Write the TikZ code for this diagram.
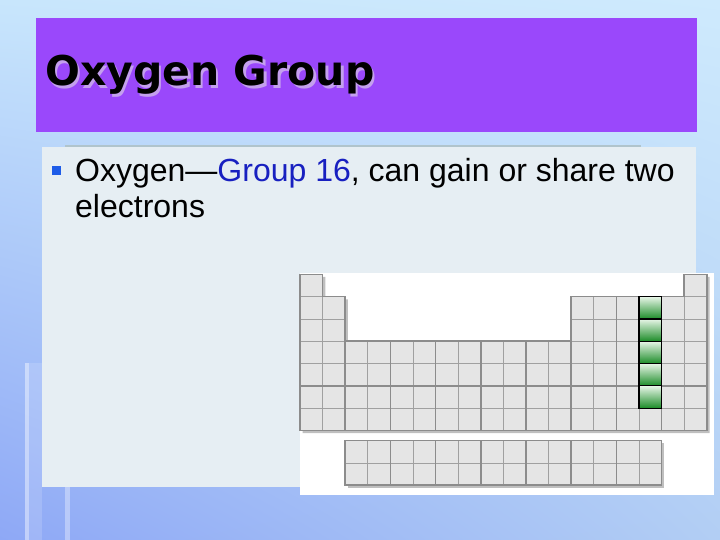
\documentclass[tikz,border=0pt]{standalone}
\usepackage{fontspec}
\setmainfont{Liberation Sans}
\newfontfamily\titlefont{DejaVu Sans}
\definecolor{bgul}{RGB}{200,230,252}
\definecolor{bgur}{RGB}{206,234,253}
\definecolor{bgll}{RGB}{142,168,246}
\definecolor{bglr}{RGB}{178,206,244}
\definecolor{titlebar}{RGB}{154,72,251}
\definecolor{titleshade}{RGB}{196,160,238}
\definecolor{panel}{RGB}{230,238,243}
\definecolor{panelrim}{RGB}{176,196,204}
\definecolor{bulletblue}{RGB}{30,92,232}
\definecolor{textblue}{RGB}{24,32,192}
\definecolor{cellgray}{RGB}{229,229,229}
\definecolor{linegray}{RGB}{160,160,160}
\definecolor{rimgray}{RGB}{140,140,140}
\definecolor{greentop}{RGB}{232,246,232}
\definecolor{greenmid}{RGB}{96,190,96}
\definecolor{greenbot}{RGB}{28,140,40}
\usetikzlibrary{positioning,shadings}

\begin{document}
\begin{tikzpicture}[x=1pt,y=-1pt,
  cell/.style={fill=cellgray,draw=linegray,line width=0.8pt},
  rim/.style={draw=rimgray,line width=1.6pt},
  drop/.style={fill=black,opacity=0.25},
  greencell/.style={top color=greentop,middle color=greenmid,bottom color=greenbot,draw=black,line width=1.2pt}]
  \useasboundingbox (0,0) rectangle (720,540);
  % slide background
  \shade[upper left=bgul,upper right=bgur,lower left=bgll,lower right=bglr] (0,0) rectangle (720,540);
  \fill[white,opacity=0.45] (25,363) rectangle (29,540);
  \fill[white,opacity=0.15] (29,363) rectangle (42,540);
  \fill[white,opacity=0.35] (65,487) rectangle (70,540);
  % title bar
  \fill[titlebar] (36,18) rectangle (697,132);
  \node[anchor=base west,inner sep=0pt,text=titleshade,font=\titlefont\bfseries\fontsize{41}{41}\selectfont] at (47.5,88.5) {Oxygen Group};
  \node[anchor=base west,inner sep=0pt,font=\titlefont\bfseries\fontsize{41}{41}\selectfont] (T) at (45,86) {Oxygen Group};
  % text panel
  \fill[panelrim] (65,145) rectangle (641,148);
  \fill[panel] (42,147) rectangle (696,487);
  \node[fill=bulletblue,minimum width=8.5pt,minimum height=9pt,inner sep=0pt,anchor=north west] (S) at (52,166) {};
  \node[anchor=base west,inner sep=0pt,font=\fontsize{32}{36}\selectfont] (L1) at (75,182)
    {Oxygen—{\color{textblue}Group 16}, can gain or share two};
  \node[anchor=base west,inner sep=0pt,font=\fontsize{32}{36}\selectfont] (L2) at (75,218) {electrons};
  % periodic table
  \fill[white] (300,273) rectangle (714,495);
  \begin{scope}[shift={(300,274.3)},x=22.6pt,y=-22.3pt]
    % shadows
    \fill[drop,shift={(0.12,0.12)}] (0,0) -- (1,0) -- (1,1) -- (2,1) -- (2,3) -- (12,3) -- (12,1) -- (17,1) -- (17,0) -- (18,0) -- (18,7) -- (0,7) -- cycle;
    \fill[drop,shift={(0.12,0.12)}] (2,7.46) rectangle (16,9.46);
    % cells
    \foreach \c in {0,17} \draw[cell] (\c,0) rectangle ++(1,1);
    \foreach \r in {1,2} \foreach \c in {0,1,12,13,...,17} \draw[cell] (\c,\r) rectangle ++(1,1);
    \foreach \r in {3,...,6} \foreach \c in {0,...,17} \draw[cell] (\c,\r) rectangle ++(1,1);
    \foreach \r in {7.46,8.46} \foreach \c in {2,...,15} \draw[cell] (\c,\r) rectangle ++(1,1);
    % heavier group lines
    \foreach \c in {2,4,...,16} \draw[rim] (\c,3) -- (\c,7);
    \foreach \c in {14,16} \draw[rim] (\c,1) -- (\c,3);
    \draw[rim] (0,5) -- (18,5);
    \draw[rim] (0,0) -- (1,0) -- (1,1) -- (2,1) -- (2,3) -- (12,3) -- (12,1) -- (17,1) -- (17,0) -- (18,0) -- (18,7) -- (0,7) -- cycle;
    \foreach \c in {4,6,...,14} \draw[rim] (\c,7.46) -- (\c,9.46);
    \draw[rim] (2,7.46) rectangle (16,9.46);
    % group 16
    \foreach \r in {1,...,5} \draw[greencell] (15,\r) rectangle ++(1,1);
  \end{scope}
\end{tikzpicture}
\end{document}
